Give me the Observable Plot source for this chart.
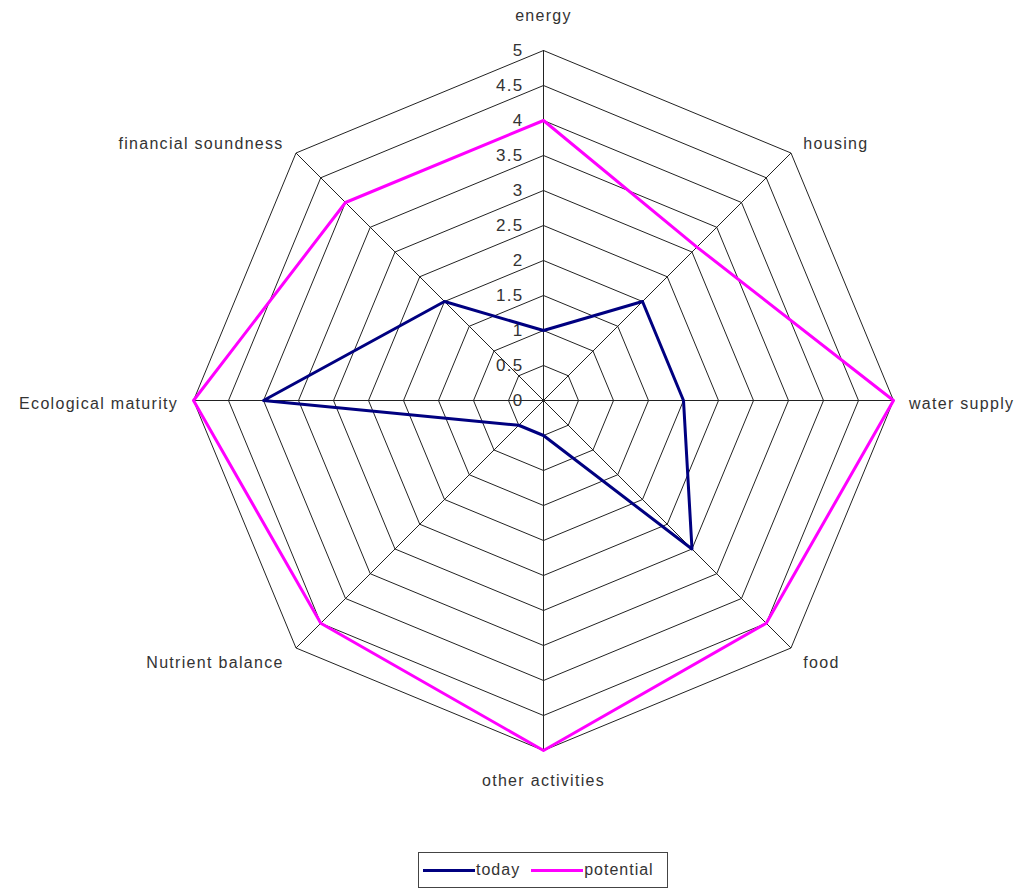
<!DOCTYPE html>
<html>
<head>
<meta charset="utf-8">
<script src="https://cdn.jsdelivr.net/npm/d3@7"></script>
<script src="https://cdn.jsdelivr.net/npm/@observablehq/plot@0.6"></script>
<style>
  html, body { margin: 0; padding: 0; background: #fff; }
  #wrap { position: relative; width: 1023px; height: 890px; font-family: "Liberation Sans", Arial, sans-serif; }
  #legend { position: absolute; left: 418px; top: 852px; width: 250px; height: 36px; box-sizing: border-box;
    border: 1.5px solid #444; display: flex; align-items: center; font-size: 16px; letter-spacing: 1px; color: #333; padding-left: 4px; }
  .sw { display: inline-block; width: 52px; height: 0; border-top: 3px solid; margin-right: 1px; }
</style>
</head>
<body>
<div id="wrap"><div id="chart"></div>
<div id="legend"><span class="sw" style="border-color:#000080"></span><span>today</span><span style="width:11px"></span><span class="sw" style="border-color:#ff00ff"></span><span>potential</span></div>
</div>
<script>
const categories = ["energy", "housing", "water supply", "food", "other activities", "Nutrient balance", "Ecological maturity", "financial soundness"];
const today = [1, 2, 2, 3, 0.5, 0.5, 4, 2];
const potential = [4, 3.1, 5, 4.5, 5, 4.5, 5, 4];
const tickValues = [0, 0.5, 1, 1.5, 2, 2.5, 3, 3.5, 4, 4.5, 5];
const tickLabels = ["0", "0.5", "1", "1.5", "2", "2.5", "3", "3.5", "4", "4.5", "5"];
const maxValue = 5;

const n = categories.length;
const ang = i => (i * 2 * Math.PI) / n;
const px = (i, r) => r * Math.sin(ang(i));
const py = (i, r) => r * Math.cos(ang(i));

// grid rings
const rings = [];
tickValues.filter(v => v > 0).forEach(v => {
  for (let i = 0; i <= n; i++) rings.push({ level: v, x: px(i % n, v), y: py(i % n, v) });
});
// spokes
const spokes = categories.map((c, i) => ({ x1: 0, y1: 0, x2: px(i, maxValue), y2: py(i, maxValue) }));

function series(vals, name) {
  const out = vals.map((v, i) => ({ name, x: px(i, v), y: py(i, v) }));
  out.push(out[0]);
  return out;
}
const todayPts = series(today, "today");
const potentialPts = series(potential, "potential");

// category labels
const labR = i => (i === 0 ? 5.5 : i === 4 ? 5.43 : i % 2 === 0 ? 5.22 : 5.25);
const catLabels = categories.map((c, i) => {
  const s = Math.sin(ang(i));
  return { text: c, x: px(i, labR(i)), y: py(i, labR(i)), anchor: Math.abs(s) < 0.01 ? "middle" : s > 0 ? "start" : "end" };
});
const tickData = tickValues.map((v, k) => ({ x: 0, y: v, label: tickLabels[k] }));

const labelStyle = { fill: "#333", fontSize: 16, style: "letter-spacing:1.4px" };

const chart = Plot.plot({
  width: 1023,
  height: 845,
  margin: 0,
  x: { domain: [-5, 5], range: [193, 893], axis: null },
  y: { domain: [-5, 5], range: [750, 50], axis: null },
  style: { fontFamily: "'Liberation Sans', Arial, sans-serif", fontSize: "16px", background: "#fff", overflow: "visible", letterSpacing: "1.3px" },
  marks: [
    Plot.line(rings, { x: "x", y: "y", z: "level", stroke: "#222", strokeWidth: 1 }),
    Plot.link(spokes, { x1: "x1", y1: "y1", x2: "x2", y2: "y2", stroke: "#222", strokeWidth: 1 }),
    Plot.text(tickData, { x: "x", y: "y", text: "label", textAnchor: "end", dx: -20, fill: "#333", fontSize: 17 }),
    Plot.line(potentialPts, { x: "x", y: "y", stroke: "#ff00ff", strokeWidth: 3, curve: "linear" }),
    Plot.line(todayPts, { x: "x", y: "y", stroke: "#000080", strokeWidth: 3, curve: "linear" }),
    Plot.text(catLabels.filter(d => d.anchor === "middle"), { x: "x", y: "y", text: "text", textAnchor: "middle", fill: "#333", fontSize: 16 }),
    Plot.text(catLabels.filter(d => d.anchor === "start"), { x: "x", y: "y", text: "text", textAnchor: "start", fill: "#333", fontSize: 16, dy: 3 }),
    Plot.text(catLabels.filter(d => d.anchor === "end"), { x: "x", y: "y", text: "text", textAnchor: "end", fill: "#333", fontSize: 16, dy: 3 })
  ]
});
document.getElementById("chart").appendChild(chart);
</script>
</body>
</html>
